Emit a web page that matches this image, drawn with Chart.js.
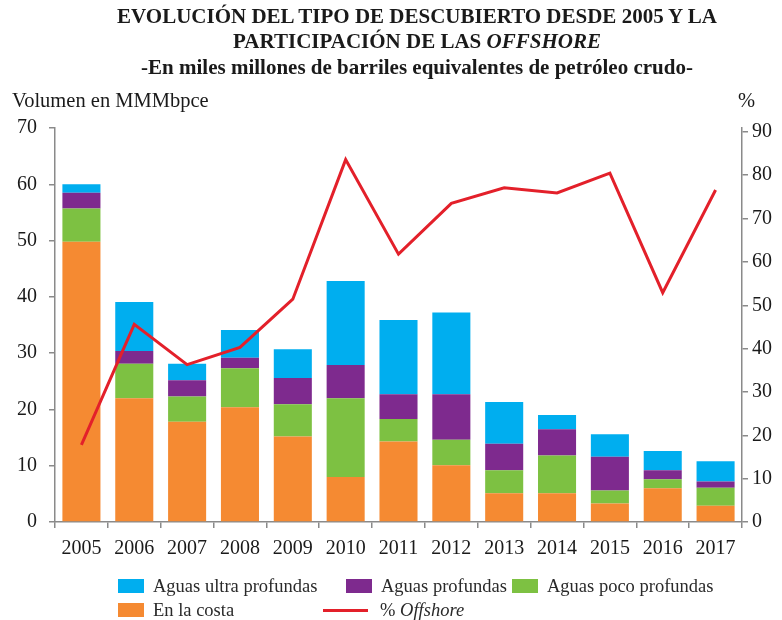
<!DOCTYPE html>
<html lang="es">
<head>
<meta charset="utf-8">
<title>Evolución del tipo de descubierto</title>
<script src="https://cdn.jsdelivr.net/npm/chart.js@4.4.1/dist/chart.umd.min.js"></script>
<style>
    html, body { margin: 0; padding: 0; background: #fff; }
    #lienzo { position: relative; width: 782px; height: 620px; overflow: hidden; font-family: "Liberation Serif", serif; color: #1a1a1a; }
    #grafica { position: absolute; left: 0; top: 0; }
    /* el título de la original está centrado un poco a la derecha */
    .titulo { position: absolute; left: 26px; width: 782px; text-align: center; font-weight: bold; white-space: nowrap; font-size: 21px; }
    .etiqueta-eje { position: absolute; font-size: 20.5px; white-space: nowrap; }
    .leyenda-item { position: absolute; font-size: 18.5px; white-space: nowrap; display: flex; align-items: center; height: 22px; color: #2a2a2a; }
    .muestra { display: inline-block; width: 26px; height: 14px; margin-right: 9px; }
    .muestra-linea { display: inline-block; width: 45px; height: 3px; margin-right: 12px; }
</style>
</head>
<body>
<div id="lienzo">
    <canvas id="grafica" width="782" height="620"></canvas>
    <div class="titulo" style="top:4px;">EVOLUCIÓN DEL TIPO DE DESCUBIERTO DESDE 2005 Y LA</div>
    <div class="titulo" style="top:29px;">PARTICIPACIÓN DE LAS <i>OFFSHORE</i></div>
    <div class="titulo" style="top:55px;">-En miles millones de barriles equivalentes de petróleo crudo-</div>
    <div class="etiqueta-eje" style="left:12px; top:89px;">Volumen en MMMbpce</div>
    <div class="etiqueta-eje" style="left:738px; top:89px;">%</div>
    <div id="leyenda"></div>
</div>
<script>
// --- DATOS ---
const anios = ['2005', '2006', '2007', '2008', '2009', '2010', '2011', '2012', '2013', '2014', '2015', '2016', '2017'];

// miles de millones de bpce por tipo de descubrimiento
const enLaCosta           = [49.8, 22.0, 17.8, 20.4, 15.2,  8.0, 14.3, 10.1, 5.1, 5.1, 3.3, 6.0, 2.9];
const aguasPocoProfundas  = [ 5.9,  6.1,  4.5,  6.9,  5.7, 14.0,  4.0,  4.5, 4.1, 6.7, 2.3, 1.6, 3.2];
const aguasProfundas      = [ 2.8,  2.3,  2.9,  1.9,  4.7,  5.9,  4.4,  8.1, 4.7, 4.7, 6.0, 1.6, 1.1];
const aguasUltraProfundas = [ 1.5,  8.7,  2.9,  4.9,  5.1, 14.9, 13.2, 14.5, 7.4, 2.5, 4.0, 3.4, 3.6];

// participación offshore en %
const porcentajeOffshore  = [17.8, 45.6, 36.3, 40.3, 51.4, 83.6, 61.8, 73.5, 77.1, 75.9, 80.5, 52.9, 76.6];

// marcas de los ejes
const ticksVolumen    = [0, 10, 20, 30, 40, 50, 60, 70];
const ticksPorcentaje = [0, 10, 20, 30, 40, 50, 60, 70, 80, 90];

const COLORES = {
    costa: '#F58A32',
    poco: '#7DC142',
    profundas: '#7E2A8E',
    ultra: '#00AEEF',
    offshore: '#E3202A',
    eje: '#8a8a8a'
};

const fuenteEjes = { family: '"Liberation Serif", serif', size: 20 };

document.addEventListener('DOMContentLoaded', () => {

    const ctx = document.getElementById('grafica').getContext('2d');

    const barra = (label, data, color) => ({
        type: 'bar',
        label,
        data,
        backgroundColor: color,
        yAxisID: 'y',
        stack: 'volumen',
        order: 2,
        barPercentage: 0.72,
        categoryPercentage: 1.0
    });

    const grafica = new Chart(ctx, {
        data: {
            labels: anios,
            datasets: [
                barra('En la costa', enLaCosta, COLORES.costa),
                barra('Aguas poco profundas', aguasPocoProfundas, COLORES.poco),
                barra('Aguas profundas', aguasProfundas, COLORES.profundas),
                barra('Aguas ultra profundas', aguasUltraProfundas, COLORES.ultra),
                {
                    type: 'line',
                    label: '% Offshore',
                    data: porcentajeOffshore,
                    borderColor: COLORES.offshore,
                    backgroundColor: COLORES.offshore,
                    borderWidth: 3,
                    pointRadius: 0,
                    tension: 0,
                    yAxisID: 'y1',
                    order: 1
                }
            ]
        },
        options: {
            responsive: false,
            animation: false,
            layout: { padding: { top: 128, left: 0, right: 0, bottom: 56 } },
            plugins: {
                legend: { display: false },
                title: { display: false },
                tooltip: { enabled: false }
            },
            scales: {
                x: {
                    stacked: true,
                    afterFit: (scale) => { scale.height = 42; },
                    border: { display: true, color: COLORES.eje, width: 1.5 },
                    grid: { display: true, offset: true, drawOnChartArea: false, tickLength: 6, color: COLORES.eje, lineWidth: 1.5 },
                    ticks: { color: '#1a1a1a', font: fuenteEjes, padding: 9, maxRotation: 0 }
                },
                y: {
                    position: 'left',
                    stacked: true,
                    min: 0,
                    max: 70,
                    afterFit: (scale) => { scale.width = 55; },
                    afterBuildTicks: (scale) => { scale.ticks = ticksVolumen.map(v => ({ value: v })); },
                    border: { display: true, color: COLORES.eje, width: 1.5 },
                    grid: { display: true, drawOnChartArea: false, tickLength: 6, color: COLORES.eje, lineWidth: 1.5 },
                    ticks: { color: '#1a1a1a', font: fuenteEjes, padding: 12 }
                },
                y1: {
                    position: 'right',
                    min: 0,
                    // el 90 de la original queda un poco por debajo del 70 izquierdo
                    max: 90.9,
                    afterFit: (scale) => { scale.width = 40; },
                    afterBuildTicks: (scale) => { scale.ticks = ticksPorcentaje.map(v => ({ value: v })); },
                    border: { display: true, color: COLORES.eje, width: 1.5 },
                    grid: { display: true, drawOnChartArea: false, tickLength: 6, color: COLORES.eje, lineWidth: 1.5 },
                    ticks: { color: '#1a1a1a', font: fuenteEjes, padding: 4 }
                }
            }
        }
    });

    // --- LEYENDA en HTML, con la distribución de la original ---
    const posiciones = {
        'Aguas ultra profundas': { left: 118, top: 575 },
        'Aguas profundas': { left: 346, top: 575 },
        'Aguas poco profundas': { left: 512, top: 575 },
        'En la costa': { left: 118, top: 599 },
        '% Offshore': { left: 323, top: 599 }
    };
    const leyenda = document.getElementById('leyenda');
    grafica.data.datasets.forEach(ds => {
        const pos = posiciones[ds.label];
        const item = document.createElement('div');
        item.className = 'leyenda-item';
        item.style.left = pos.left + 'px';
        item.style.top = pos.top + 'px';
        const muestra = document.createElement('span');
        muestra.className = ds.type === 'line' ? 'muestra-linea' : 'muestra';
        muestra.style.background = ds.type === 'line' ? ds.borderColor : ds.backgroundColor;
        item.appendChild(muestra);
        const texto = document.createElement('span');
        if (ds.type === 'line') {
            texto.innerHTML = '% <i>Offshore</i>';
        } else {
            texto.textContent = ds.label;
        }
        item.appendChild(texto);
        leyenda.appendChild(item);
    });
});
</script>
</body>
</html>
